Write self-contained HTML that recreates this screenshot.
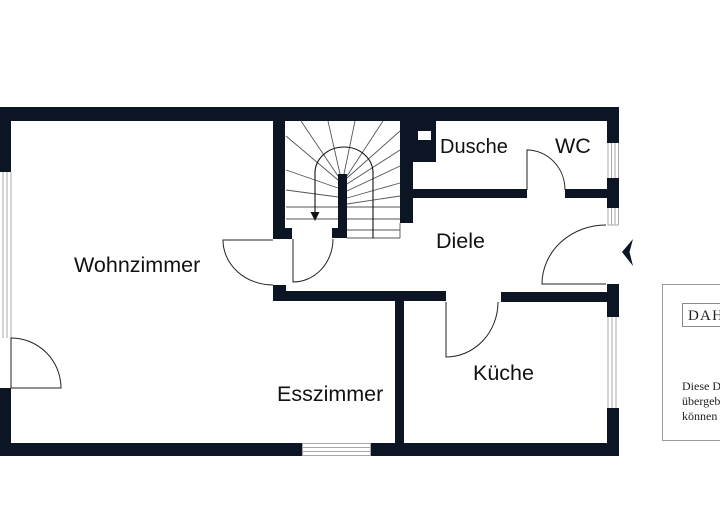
<!DOCTYPE html>
<html><head><meta charset="utf-8"><style>
html,body{margin:0;padding:0;background:#fff;}
svg{display:block;}
.t{font-family:"Liberation Sans",Arial,sans-serif;font-size:21.5px;fill:#111;}
.s{font-family:"Liberation Serif","Times New Roman",serif;fill:#222;}
</style></head><body>
<svg width="720" height="530" viewBox="0 0 720 530" xmlns="http://www.w3.org/2000/svg">
<rect width="720" height="530" fill="#fff"/>
<g fill="#0c1524">
<rect x="0" y="107" width="619" height="14"/>
<rect x="0" y="107" width="11" height="65"/>
<rect x="0" y="388" width="11" height="68"/>
<rect x="0" y="443" width="302" height="13"/>
<rect x="371" y="443" width="248" height="13"/>
<rect x="607" y="107" width="12" height="36"/>
<rect x="607" y="178" width="12" height="30"/>
<rect x="607" y="284" width="12" height="33"/>
<rect x="607" y="408" width="12" height="48"/>
<rect x="273" y="121" width="12" height="118"/>
<rect x="285" y="228" width="7" height="11"/>
<rect x="338" y="174" width="9" height="64"/>
<rect x="332" y="228" width="15" height="10"/>
<rect x="400" y="121" width="13" height="102"/>
<rect x="413" y="121" width="23" height="41"/>
<rect x="413" y="189" width="114" height="9"/>
<rect x="565" y="189" width="42" height="9"/>
<rect x="273" y="285" width="13" height="16"/>
<rect x="273" y="291" width="173" height="10"/>
<rect x="501" y="292" width="106" height="10"/>
<rect x="395" y="300" width="9" height="143"/>
</g>
<rect x="418" y="131" width="13" height="9" fill="#fff"/>
<g stroke="#a8a8a8" stroke-width="1" fill="none">
<line x1="3" y1="172" x2="3" y2="338"/><line x1="7" y1="172" x2="7" y2="338"/><line x1="11" y1="172" x2="11" y2="338"/>
<line x1="608" y1="143" x2="608" y2="178"/><line x1="611.5" y1="143" x2="611.5" y2="178"/><line x1="615" y1="143" x2="615" y2="178"/><line x1="618.5" y1="143" x2="618.5" y2="178"/>
<line x1="608" y1="208" x2="608" y2="225"/><line x1="611.5" y1="208" x2="611.5" y2="225"/><line x1="615" y1="208" x2="615" y2="225"/><line x1="618.5" y1="208" x2="618.5" y2="225"/>
<line x1="607.5" y1="225" x2="619" y2="225"/>
<line x1="608" y1="317" x2="608" y2="408"/><line x1="612" y1="317" x2="612" y2="408"/><line x1="616" y1="317" x2="616" y2="408"/>
<line x1="302" y1="443.5" x2="371" y2="443.5"/><line x1="302" y1="447.5" x2="371" y2="447.5"/><line x1="302" y1="451.5" x2="371" y2="451.5"/><line x1="302" y1="455.5" x2="371" y2="455.5"/>
<line x1="302.5" y1="443" x2="302.5" y2="456"/><line x1="370.5" y1="443" x2="370.5" y2="456"/>
</g>
<g stroke="#555" stroke-width="0.9" fill="none">
<line x1="301" y1="121" x2="338" y2="176"/>
<line x1="328" y1="121" x2="340" y2="174"/>
<line x1="355" y1="121" x2="344" y2="174"/>
<line x1="383" y1="121" x2="347" y2="176"/>
<line x1="286" y1="136" x2="338" y2="180"/>
<line x1="286" y1="170" x2="338" y2="188"/>
<line x1="286" y1="190" x2="338" y2="197"/>
<line x1="286" y1="207" x2="338" y2="207"/>
<line x1="286" y1="219" x2="338" y2="219"/>
<line x1="400" y1="131" x2="347" y2="178"/>
<line x1="400" y1="150" x2="347" y2="184"/>
<line x1="400" y1="166" x2="347" y2="191"/>
<line x1="400" y1="183" x2="347" y2="198"/>
<line x1="400" y1="196" x2="347" y2="204"/>
<line x1="347" y1="207" x2="400" y2="207"/>
<line x1="347" y1="219" x2="400" y2="219"/>
<line x1="347" y1="230" x2="400" y2="230"/>
<line x1="347" y1="238" x2="400" y2="238"/>
<line x1="400" y1="223" x2="400" y2="238"/>
</g>
<path d="M315,213 L315,173 A29,26 0 0 1 373,173 L373,238" stroke="#111" stroke-width="1.1" fill="none"/>
<polygon points="310.5,212 319.5,212 315,221" fill="#111"/>
<g stroke="#222" stroke-width="1" fill="#fff">
<path d="M11,388 L11,338 A50,50 0 0 1 61,388 Z"/>
<path d="M273,240 L223,240 A50,45 0 0 0 273,285"/>
<path d="M293,239 L293,282 A40,43 0 0 0 333,239"/>
<path d="M527,190 L527,150 A38,40 0 0 1 565,190"/>
<path d="M606,284 L542,284 A64,59 0 0 1 606,225"/>
<path d="M446,302 L446,357 A52,55 0 0 0 498,302"/>
</g>
<polygon points="622,252 633,239 629.5,252 633,266" fill="#0c1524"/>
<text class="t" x="74" y="272">Wohnzimmer</text>
<text class="t" x="436" y="248">Diele</text>
<text class="t" x="440" y="153" style="font-size:20px">Dusche</text>
<text class="t" x="555" y="153">WC</text>
<text class="t" x="277" y="401">Esszimmer</text>
<text class="t" x="473" y="380">Küche</text>
<rect x="662.5" y="284.5" width="80" height="156" fill="#fff" stroke="#9a9a9a" stroke-width="1"/>
<rect x="682.5" y="303.5" width="60" height="23" fill="#fff" stroke="#8a8a8a" stroke-width="1"/>
<text class="s" x="688" y="320" font-size="15" letter-spacing="1.2">DAH</text>
<text class="s" x="682" y="390" font-size="12">Diese D</text>
<text class="s" x="682" y="405" font-size="12">übergeb</text>
<text class="s" x="682" y="420" font-size="12">können</text>
</svg>
</body></html>
